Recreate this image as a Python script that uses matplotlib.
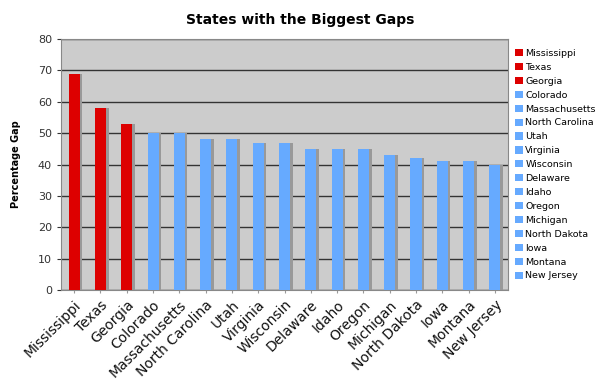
import matplotlib.pyplot as plt
import numpy as np
from matplotlib.patches import Patch

states = ["Mississippi", "Texas", "Georgia", "Colorado", "Massachusetts",
          "North Carolina", "Utah", "Virginia", "Wisconsin", "Delaware",
          "Idaho", "Oregon", "Michigan", "North Dakota", "Iowa", "Montana",
          "New Jersey"]
gaps = [69, 58, 53, 50, 50, 48, 48, 47, 47, 45, 45, 45, 43, 42, 41, 41, 40]
highlight = ["Mississippi", "Texas", "Georgia"]

red = "#dd0000"
blue = "#66aaff"
colors = [red if s in highlight else blue for s in states]

fig = plt.figure(figsize=(6, 3.92), dpi=100)
ax = fig.add_axes([0.1017, 0.260, 0.745, 0.6405])
ax.set_facecolor("#cccccc")

x = np.arange(len(states))
# shadow behind each bar for the 3D look
ax.bar(x + 0.1, gaps, width=0.42, color="#999999", zorder=2)
ax.bar(x, gaps, width=0.42, color=colors, zorder=3)

ax.set_xlim(-0.5, len(states) - 0.5)
ax.set_ylim(0, 80)
ax.set_yticks(range(0, 81, 10))
ax.yaxis.grid(True, color="#333333", linewidth=1.0, zorder=1)
ax.set_axisbelow(True)
ax.tick_params(axis="y", labelsize=8, colors="#333333", length=3)
ax.tick_params(axis="x", length=2, colors="#999999")
ax.set_xticks(x)
ax.set_xticklabels(states, rotation=45, ha="right", rotation_mode="anchor",
                   fontsize=10, color="#111111")
for lbl in ax.get_yticklabels():
    lbl.set_color("#333333")
for side in ["top", "right", "left", "bottom"]:
    ax.spines[side].set_color("#888888")

ax.set_ylabel("Percentage Gap", fontsize=7, fontweight="bold", labelpad=12)
fig.text(0.5, 0.948, "States with the Biggest Gaps", ha="center", va="center",
         fontsize=10, fontweight="bold")

handles = [Patch(facecolor=c, edgecolor="none", label=s) for s, c in zip(states, colors)]
fig.legend(handles=handles, loc="upper left", bbox_to_anchor=(0.852, 0.885),
           frameon=False, fontsize=6.8, handlelength=0.8, handleheight=0.8,
           handletextpad=0.3, labelspacing=0.52, borderaxespad=0)

fig.savefig("out.png", dpi=100)
